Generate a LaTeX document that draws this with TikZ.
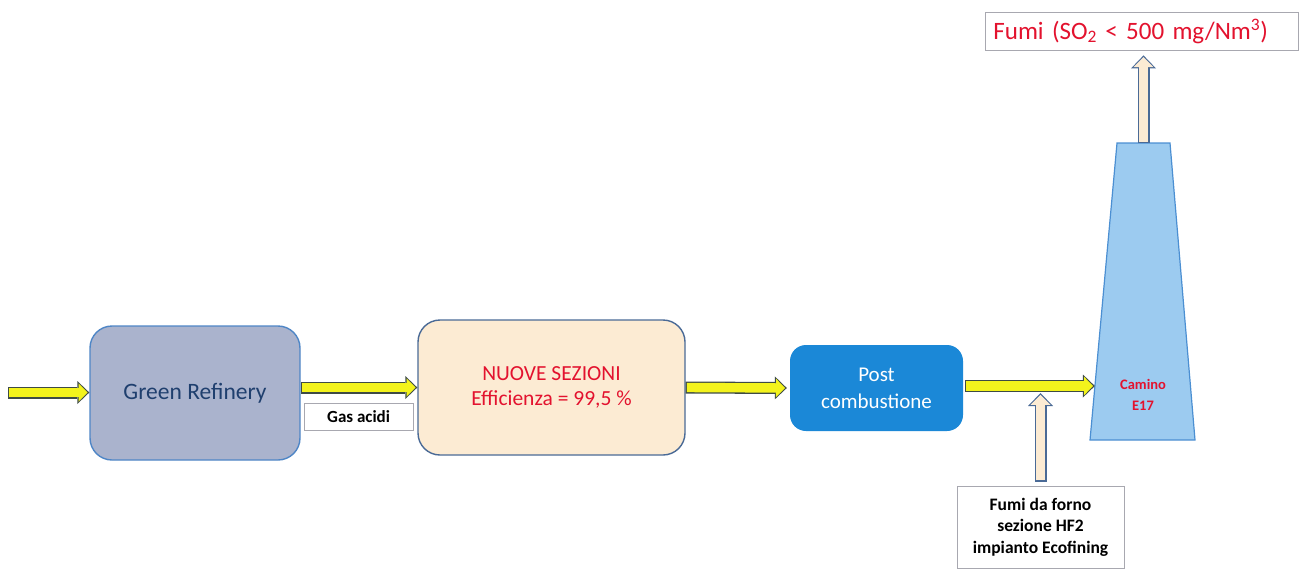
\documentclass[tikz,border=0pt]{standalone}
\usepackage{fontspec}
\setmainfont{Carlito}
\usetikzlibrary{arrows.meta, positioning, calc}
\definecolor{refgrey}{HTML}{AAB3CD}
\definecolor{refedge}{HTML}{4F86C6}
\definecolor{refnavy}{HTML}{1F3F6E}
\definecolor{peachfill}{HTML}{FCEBD3}
\definecolor{peachedge}{HTML}{4A6A96}
\definecolor{postblue}{HTML}{1B88D7}
\definecolor{stackblue}{HTML}{9CCBF0}
\definecolor{stackedge}{HTML}{4B8FD2}
\definecolor{flowyellow}{HTML}{F3F31C}
\definecolor{flowedge}{HTML}{3E4B45}
\definecolor{alertred}{HTML}{E3122E}
\definecolor{tagedge}{HTML}{A8A8B0}

\tikzset{
  yflow/.style={line width=12pt, draw=flowedge,
    -{Triangle[length=12pt, width=23pt, line width=0pt]},
    postaction={draw=flowyellow, line width=9.4pt, shorten >=1.8pt, shorten <=1.2pt,
      -{Triangle[length=9pt, width=18.5pt, line width=0pt]}}},
  pflow/.style={line width=12pt, draw=peachedge,
    -{Triangle[length=13pt, width=25pt, line width=0pt]},
    postaction={draw=peachfill, line width=9.4pt, shorten >=1.8pt, shorten <=1.2pt,
      -{Triangle[length=10pt, width=20pt, line width=0pt]}}},
  tagbox/.style={draw=tagedge, line width=0.8pt, fill=white, inner sep=0pt},
}

\begin{document}
\begin{tikzpicture}[x=1pt, y=-1pt]
  \useasboundingbox (0,0) rectangle (1299,568);

  \node[draw=refedge, fill=refgrey, line width=1.4pt, rounded corners=22pt,
        minimum width=210pt, minimum height=134pt, text=refnavy,
        font=\fontsize{23.5}{28}\selectfont] (gr) at (195,393) {Green Refinery};
  \node[draw=peachedge, fill=peachfill, line width=1.4pt, rounded corners=22pt,
        minimum width=267pt, minimum height=135pt, text=alertred, align=center,
        font=\fontsize{21.5}{25}\selectfont] (ns) at (551.5,387.5)
        {NUOVE SEZIONI\\Efficienza = 99,5 \%};
  \node[fill=postblue, rounded corners=16pt, minimum width=173pt,
        minimum height=86pt, text=white, align=center,
        font=\fontsize{21}{27}\selectfont] (pc) at (876.5,388)
        {Post\\combustione};

  % camino
  \coordinate (ctopl) at (1117,143);
  \coordinate (ctopr) at (1170,143);
  \coordinate (cbotl) at (1090,440);
  \coordinate (cbotr) at (1195,440);
  \draw[stackedge, fill=stackblue, line width=1.2pt]
    (ctopl) -- (ctopr) -- (cbotr) -- (cbotl) -- cycle;
  \coordinate (ctop) at ($(ctopl)!0.5!(ctopr)$);
  \coordinate (chimin) at ($(cbotl)!0.18!(ctopl)$);
  \node[text=alertred, align=center, font=\fontsize{14.5}{21}\selectfont\bfseries]
        (camino) at (1143,395) {Camino\\E17};

  \node[tagbox, minimum width=109pt, minimum height=27pt,
        font=\fontsize{17}{20}\selectfont\bfseries,
        below right=10pt and 3pt of gr.east] (gas) {Gas acidi};
  \node[tagbox, anchor=west, text width=297pt, align=left, inner xsep=8pt,
        minimum height=38pt, text=alertred,
        font=\fontsize{25}{30}\selectfont] (fumi) at (985,31)
        {Fumi (SO\textsubscript{2} < 500 mg/Nm\textsuperscript{3})};
  \node[tagbox, minimum width=167pt, minimum height=82pt, align=center,
        font=\fontsize{17.5}{21.5}\selectfont\bfseries] (hf) at (1040.5,527)
        {Fumi da forno\\sezione HF2\\impianto Ecofining};

  \coordinate (start) at (8,392.5);

  \draw[yflow] (start) -- (gr.west |- start);
  \draw[yflow] (gr.east |- ns) -- (ns.west);
  \draw[yflow] (ns.east) -- ($(pc.west)-(3,0)$);
  \draw[yflow] ($(pc.east)+(2,-2)$) -- ($(pc.east -| chimin)+(0,-2)$);
  \draw[pflow] ($(hf.north)+(0,-4)$) -- ($(hf.north |- pc.east)+(0,5)$);
  \draw[pflow] (ctop) -- ($(ctop |- fumi.south)+(0,5)$);
\end{tikzpicture}
\end{document}
